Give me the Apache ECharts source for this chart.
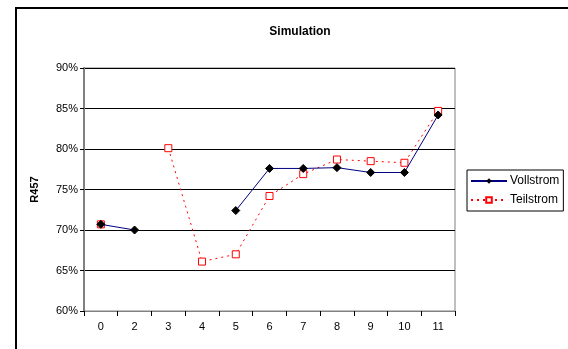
<!DOCTYPE html>
<html><head><meta charset="utf-8">
<script src="https://cdn.jsdelivr.net/npm/echarts@6/dist/echarts.min.js"></script>
<style>html,body{margin:0;padding:0;background:#fff}#c{width:568px;height:349px}</style>
</head><body><div id="c"></div>
<script>
const categories = ['0','2','3','4','5','6','7','8','9','10','11'];
const vollstrom = [70.7, 70.0, null, null, 72.4, 77.6, 77.6, 77.7, 77.1, 77.1, 84.2];
const teilstrom = [70.7, null, 80.1, 66.1, 67.0, 74.2, 76.9, 78.7, 78.5, 78.3, 84.7];
const yTicks = [60, 65, 70, 75, 80, 85, 90];

const chart = echarts.init(document.getElementById('c'), null, {renderer: 'canvas'});
const font = 'Liberation Sans, Arial, sans-serif';
chart.setOption({
  animation: false,
  backgroundColor: '#fff',
  textStyle: {fontFamily: font},
  graphic: [{
    type: 'polyline', shape: {points: [[16, 349], [16, 8], [568, 8]]},
    style: {stroke: '#000', lineWidth: 2, fill: null}, silent: true
  }],
  title: {
    text: 'Simulation', left: 295, top: 21, textAlign: 'center',
    textStyle: {fontFamily: font, fontSize: 12, fontWeight: 'bold', color: '#000'}
  },
  legend: {
    orient: 'vertical', left: 467, top: 170,
    padding: [5, 4, 5, 3], itemGap: 7, itemWidth: 36, itemHeight: 7,
    borderColor: '#000', borderWidth: 1,
    textStyle: {fontFamily: font, fontSize: 12, color: '#000', padding: [0, 0, 0, -2]},
    data: ['Vollstrom', 'Teilstrom']
  },
  grid: {left: 84, right: 113, top: 68, bottom: 38, show: true, borderColor: '#808080', borderWidth: 1},
  xAxis: {
    type: 'category', data: categories, boundaryGap: true,
    axisLine: {lineStyle: {color: '#808080', width: 1}},
    axisTick: {show: true, alignWithLabel: false, length: 5, lineStyle: {color: '#000'}},
    axisLabel: {color: '#000', fontSize: 11, fontFamily: font, margin: 10},
    splitLine: {show: false}
  },
  yAxis: {
    type: 'value', min: yTicks[0], max: yTicks[yTicks.length - 1], interval: 5,
    name: 'R457', nameLocation: 'middle', nameGap: 44, nameRotate: 90,
    nameTextStyle: {fontFamily: font, fontSize: 11, fontWeight: 'bold', color: '#000'},
    axisLine: {show: true, lineStyle: {color: '#808080', width: 2}},
    axisTick: {show: true, length: 4, lineStyle: {color: '#000'}},
    axisLabel: {color: '#000', fontSize: 11, fontFamily: font, margin: 6, formatter: '{value}%'},
    splitLine: {show: true, lineStyle: {color: '#000', width: 1}}
  },
  series: [
    {
      name: 'Teilstrom', type: 'line', data: teilstrom, connectNulls: false, z: 2,
      symbol: 'rect', symbolSize: 7, showAllSymbol: true,
      lineStyle: {color: '#ff0000', width: 1, type: [2, 4]},
      itemStyle: {color: '#fff', borderColor: '#ff0000', borderWidth: 1}
    },
    {
      name: 'Vollstrom', type: 'line', data: vollstrom, connectNulls: false, z: 3,
      symbol: 'diamond', symbolSize: 8, showAllSymbol: true,
      lineStyle: {color: '#000080', width: 1},
      itemStyle: {color: '#000', borderColor: '#000'}
    }
  ]
});
</script></body></html>
